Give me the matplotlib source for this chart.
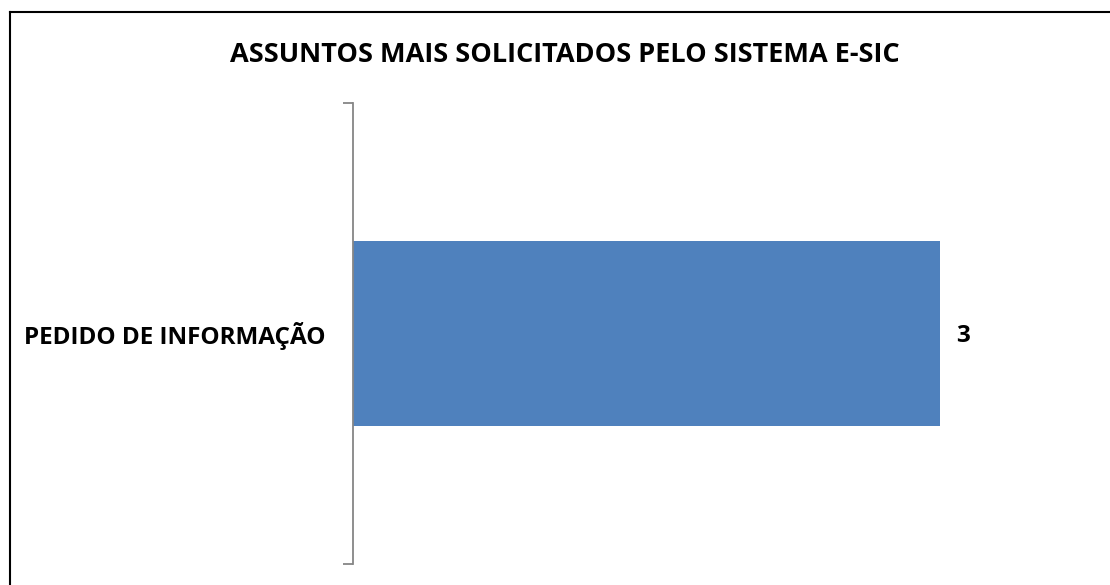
import matplotlib
matplotlib.use('Agg')
import matplotlib.pyplot as plt
from matplotlib.lines import Line2D

# chart data
categories = ['PEDIDO DE INFORMAÇÃO']
values = [3]
title = 'ASSUNTOS MAIS SOLICITADOS PELO SISTEMA E-SIC'

plt.rcParams['font.family'] = ['Open Sans', 'DejaVu Sans']

W, H = 1110, 585
fig = plt.figure(figsize=(W / 100, H / 100), dpi=100)

# axes placed in pixel terms
left, right, top, bottom = 353, 940, 103, 564
ax = fig.add_axes([left / W, (H - bottom) / H, (right - left) / W, (bottom - top) / H])

ax.barh(range(len(categories)), values, height=0.4, color='#4F81BD')
ax.set_xlim(0, max(values))
ax.set_ylim(-0.5, len(categories) - 0.5)

for i, v in enumerate(values):
    ax.annotate(str(v), (v, i), xytext=(23, -2), textcoords='offset pixels',
                ha='center', va='center', fontsize=17.5, fontweight='bold')

for s in ['top', 'right', 'bottom']:
    ax.spines[s].set_visible(False)
ax.spines['left'].set_color('#868686')
ax.spines['left'].set_linewidth(1.3)
ax.set_xticks([])

# category boundaries get tick marks, labels sit in between
ax.set_yticks([i - 0.5 for i in range(len(categories) + 1)])
ax.set_yticklabels([])
ax.tick_params(axis='y', which='major', length=7, width=1.3, color='#868686', direction='out')
ax.set_yticks(range(len(categories)), minor=True)
ax.set_yticklabels(categories, minor=True, fontsize=17.5, fontweight='bold')
ax.tick_params(axis='y', which='minor', length=0, pad=20)

fig.text(565 / W, 1 - 55 / H, title, ha='center', va='center',
         fontsize=19.5, fontweight='bold')

# outer chart border (only top and left edge visible in the crop)
fig.add_artist(Line2D([9.5 / W, 9.5 / W], [0, 1 - 11.5 / H], transform=fig.transFigure,
                      color='black', lw=1.5))
fig.add_artist(Line2D([9.5 / W, 1], [1 - 11.5 / H, 1 - 11.5 / H], transform=fig.transFigure,
                      color='black', lw=1.5))

fig.savefig('out.png', dpi=100)
